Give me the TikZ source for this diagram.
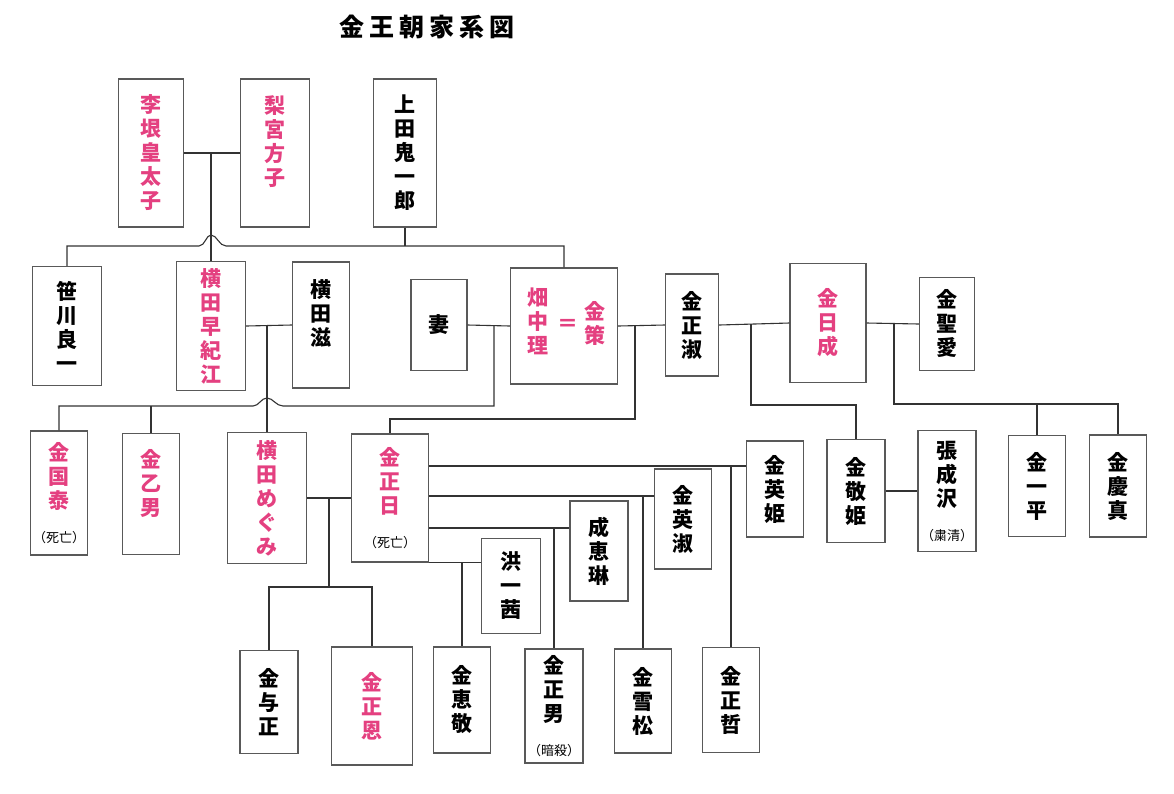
\documentclass[tikz,border=0pt]{standalone}
\usepackage{fontspec}
\setmainfont{Noto Sans CJK JP}

\definecolor{namepink}{RGB}{228,64,128}
\newcommand{\namefont}{\fontsize{21}{24}\selectfont}
\newcommand{\notefont}{\fontsize{13}{15}\selectfont\mdseries\color{black}}

\begin{document}
\begin{tikzpicture}[x=1pt, y=-1pt]
\tikzset{
	personbox/.style={rectangle, draw=black!65, line width=1.4pt, fill=white, inner sep=0pt, align=center, font=\namefont\bfseries},
	pinkbox/.style={personbox, text=namepink},
	pinktext/.style={text=namepink, font=\namefont\bfseries, align=center, inner sep=0pt},
	kinline/.style={draw=black!80, line width=1.1pt}
}
\path[use as bounding box, fill=white] (0,0) rectangle (1174,793);

\node[font=\fontsize{25}{25}\selectfont\bfseries] (title) at (427,27) {金\hspace{5pt}王\hspace{5pt}朝\hspace{5pt}家\hspace{5pt}系\hspace{5pt}図};

% first generation
\node[pinkbox, minimum width=65pt, minimum height=148pt] (yi) at (151,153) {李\\垠\\皇\\太\\子};
\node[pinkbox, minimum width=69pt, minimum height=148pt] (nashi) at (275,153) {梨\\宮\\方\\子\\ \mbox{}};
\node[personbox, minimum width=63pt, minimum height=148pt] (ueda) at (405,153) {上\\田\\鬼\\一\\郎};

% second generation
\node[personbox, minimum width=69pt, minimum height=119pt] (sasakawa) at (67,326) {笹\\川\\良\\一};
\node[pinkbox, minimum width=69pt, minimum height=129pt] (sakie) at (211,326) {横\\田\\早\\紀\\江};
\node[personbox, minimum width=57pt, minimum height=126pt] (shigeru) at (321,325) {横\\田\\滋\\ \mbox{}};
\node[personbox, minimum width=56pt, minimum height=91pt] (tsuma) at (439,325) {妻};
\node[personbox, minimum width=107pt, minimum height=116pt] (kinsaku) at (564,326) {};
\node[pinktext] (hatanaka) at (538,321) {畑\\中\\理};
\node[pinktext] (equal) at (568,325) {＝};
\node[pinktext] (kimchaek) at (595,323) {金\\策};
\node[personbox, minimum width=53pt, minimum height=102pt] (seishuku) at (692,325) {金\\正\\淑};
\node[pinkbox, minimum width=76pt, minimum height=119pt] (nissei) at (828,323) {金\\日\\成};
\node[personbox, minimum width=55pt, minimum height=93pt] (seiai) at (947,324) {金\\聖\\愛};

% third generation
\node[pinkbox, minimum width=57pt, minimum height=124pt] (kokutai) at (59,493) {金\\国\\泰\\[10pt]\notefont（死亡）};
\node[pinkbox, minimum width=57pt, minimum height=121pt] (otsuo) at (151,494) {金\\乙\\男\\ \mbox{}};
\node[pinkbox, minimum width=79pt, minimum height=131pt] (megumi) at (267,498) {横\\田\\め\\ぐ\\み};
\node[pinkbox, minimum width=77pt, minimum height=128pt] (kji) at (390,498) {金\\正\\日\\[10pt]\notefont（死亡）};
\node[personbox, minimum width=57pt, minimum height=96pt] (eiki) at (775,489) {金\\英\\姫};
\node[personbox, minimum width=58pt, minimum height=103pt] (keiki) at (856,491) {金\\敬\\姫};
\node[personbox, minimum width=58pt, minimum height=121pt] (chou) at (947,491) {張\\成\\沢\\[10pt]\notefont（粛清）};
\node[personbox, minimum width=57pt, minimum height=101pt] (ippei) at (1037,486) {金\\一\\平};
\node[personbox, minimum width=57pt, minimum height=102pt] (keishin) at (1118,486) {金\\慶\\真};
\node[personbox, minimum width=57pt, minimum height=100pt] (eishuku) at (683,519) {金\\英\\淑};
\node[personbox, minimum width=58pt, minimum height=100pt] (keirin) at (599,551) {成\\恵\\琳};
\node[personbox, minimum width=59pt, minimum height=95pt] (kouichi) at (511,586) {洪\\一\\茜};

% fourth generation
\node[personbox, minimum width=58pt, minimum height=103pt] (yojong) at (269,702) {金\\与\\正};
\node[pinkbox, minimum width=81pt, minimum height=118pt] (jongun) at (372,706) {金\\正\\恩};
\node[personbox, minimum width=57pt, minimum height=106pt] (keikei) at (462,700) {金\\恵\\敬};
\node[personbox, minimum width=58pt, minimum height=114pt] (jongnam) at (554,706) {金\\正\\男\\[10pt]\notefont（暗殺）};
\node[personbox, minimum width=57pt, minimum height=104pt] (sesshou) at (643,701) {金\\雪\\松};
\node[personbox, minimum width=57pt, minimum height=105pt] (jongchol) at (731,700) {金\\正\\哲};

% couples and children
\coordinate (yicouple) at (211,153);
\coordinate (uedabar) at (405,246);
\coordinate (hopA) at (211,246);
\coordinate (yokotacouple) at (267,326);
\coordinate (tsumacouple) at (494,326);
\coordinate (tsumabar) at (494,406);
\coordinate (hopB) at (267,406);
\coordinate (chaekcouple) at (635,325);
\coordinate (chaekbar) at (635,419);
\coordinate (ilsungcouple) at (751,324);
\coordinate (ilsungbar) at (751,405);
\coordinate (seiaicouple) at (894,324);
\coordinate (seiaibar) at (894,404);
\coordinate (megumicouple) at (329,498);
\coordinate (megumibar) at (329,587);
\coordinate (eikicouple) at (731,466);
\coordinate (eishukucouple) at (643,496);
\coordinate (keirincouple) at (554,528);
\coordinate (kouichicouple) at (462,562);

\draw[kinline] (yi.east) -- (nashi.west);
\draw[kinline] (yicouple) -- (sakie.north);
\draw[kinline] (ueda.south) -- (uedabar);
\draw[kinline] (sasakawa.north) -- (sasakawa.north |- uedabar) -- ([xshift=-12pt]hopA)
	.. controls +(6,0) and +(-5,0) .. ([yshift=11pt]hopA)
	.. controls +(6,0) and +(-7,0) .. ([xshift=15pt]hopA)
	-- (kinsaku.north |- uedabar) -- (kinsaku.north);

\draw[kinline] (sakie.east) -- (shigeru.west);
\draw[kinline] (yokotacouple) -- (megumi.north);

\draw[kinline] (tsuma.east) -- (kinsaku.west);
\draw[kinline] (tsumacouple) -- (tsumabar) -- ([xshift=16pt]hopB)
	.. controls +(-7,0) and +(6,0) .. ([yshift=8pt]hopB)
	.. controls +(-6,0) and +(6,0) .. ([xshift=-14pt]hopB)
	-- (kokutai.north |- tsumabar) -- (kokutai.north);
\draw[kinline] (otsuo.north) -- (otsuo.north |- tsumabar);

\draw[kinline] (kinsaku.east) -- (seishuku.west);
\draw[kinline] (chaekcouple) -- (chaekbar) -| (kji.north);

\draw[kinline] (seishuku.east) -- (nissei.west);
\draw[kinline] (ilsungcouple) -- (ilsungbar) -| (keiki.north);

\draw[kinline] (nissei.east) -- (seiai.west);
\draw[kinline] (seiaicouple) -- (seiaibar) -| (keishin.north);
\draw[kinline] (ippei.north) -- (ippei.north |- seiaibar);

\draw[kinline] (keiki.east) -- (chou.west);

\draw[kinline] (megumi.east) -- (kji.west);
\draw[kinline] (megumicouple) -- (megumibar);
\draw[kinline] (yojong.north) |- (megumibar) -| (jongun.north);

\draw[kinline] (kji.east |- eikicouple) -- (eiki.west |- eikicouple);
\draw[kinline] (eikicouple) -- (jongchol.north);
\draw[kinline] (kji.east |- eishukucouple) -- (eishuku.west |- eishukucouple);
\draw[kinline] (eishukucouple) -- (sesshou.north);
\draw[kinline] (kji.east |- keirincouple) -- (keirin.west |- keirincouple);
\draw[kinline] (keirincouple) -- (jongnam.north);
\draw[kinline] (kji.south east) -- (kouichi.west |- kji.south east);
\draw[kinline] (kouichicouple) -- (keikei.north);

\end{tikzpicture}
\end{document}
